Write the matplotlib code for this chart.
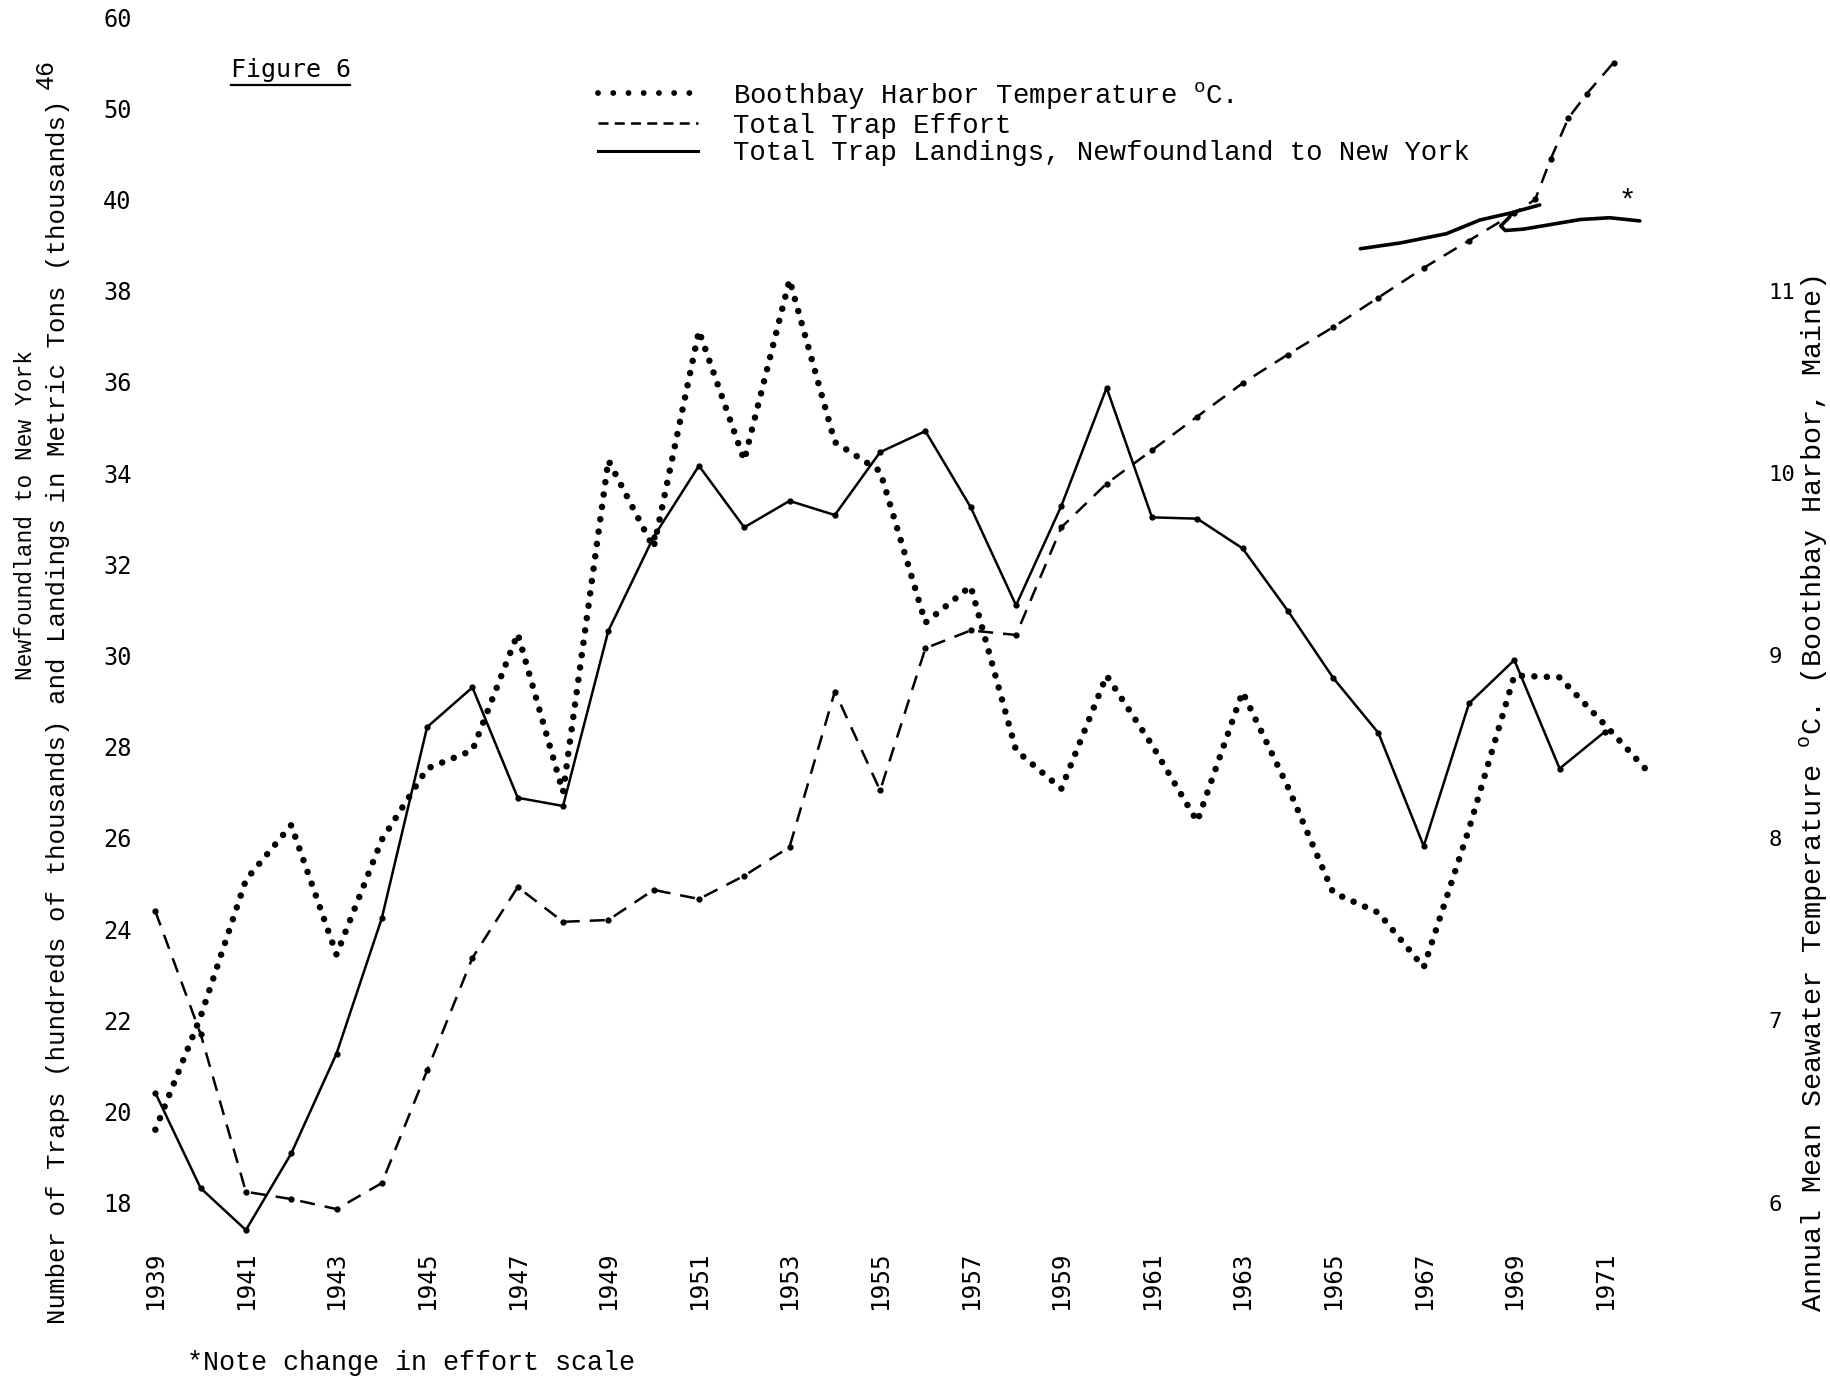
import matplotlib
matplotlib.use("Agg")
import matplotlib.pyplot as plt
from matplotlib.lines import Line2D

# ---------------- data ----------------
years = list(range(1939, 1972))
landings = [20.41, 18.32, 17.40, 19.08, 21.27, 24.24, 28.43, 29.30, 26.88, 26.70,
            30.54, 32.60, 34.16, 32.81, 33.39, 33.08, 34.46, 34.92, 33.25, 31.10,
            33.28, 35.87, 33.03, 33.00, 32.35, 30.98, 29.51, 28.30, 25.82, 28.95,
            29.90, 27.52, 28.33]

effort_years = list(range(1939, 1970))
effort = [24.39, 21.70, 18.24, 18.08, 17.86, 18.43, 20.90, 23.37, 24.92, 24.16,
          24.20, 24.86, 24.66, 25.17, 25.80, 29.21, 27.04, 30.16, 30.55, 30.45,
          32.81, 33.77, 34.50, 35.24, 35.97, 36.60, 37.20, 37.85, 38.50, 39.10,
          39.70]
# after 1969 effort is drawn on the changed scale (40 -> 50 -> 60)
effort_tail_years = [1969.46, 1969.8, 1970.19, 1970.6, 1971.19]
effort_tail = [40.0, 44.4, 48.9, 51.6, 55.0]

temp_years = list(range(1939, 1973))
temp = [6.40, 7.02, 7.77, 8.07, 7.36, 7.99, 8.38, 8.48, 9.12, 8.25,
        10.07, 9.59, 10.78, 10.07, 11.06, 10.17, 10.01, 9.18, 9.38, 8.48,
        8.27, 8.89, 8.51, 8.09, 8.80, 8.28, 7.70, 7.59, 7.29, 8.05,
        8.89, 8.88, 8.62, 8.35]

# hand-drawn landings strokes (changed scale, marked *)
redraw1_years = [1965.6, 1966.5, 1967.5, 1968.24, 1968.9, 1969.56]
redraw1_vals = [38.92, 39.05, 39.25, 39.55, 39.70, 39.88]
redraw2_years = [1968.9, 1968.7, 1968.8, 1969.2, 1969.8, 1970.45, 1971.1, 1971.77]
redraw2_vals = [39.62, 39.42, 39.32, 39.35, 39.45, 39.56, 39.60, 39.53]

left_tick_labels = ['18', '20', '22', '24', '26', '28', '30', '32', '34', '36',
                    '38', '40', '50', '60']
left_tick_values = [18, 20, 22, 24, 26, 28, 30, 32, 34, 36, 38, 40, 50, 60]
right_ticks = [6, 7, 8, 9, 10, 11]
year_ticks = list(range(1939, 1972, 2))


def effort_axis(e):
    """map effort value to left-axis position (scale changes above 40)"""
    return e if e <= 40 else 40 + (e - 40) / 5.0


plt.rcParams['mathtext.fontset'] = 'custom'
plt.rcParams['mathtext.rm'] = 'Liberation Mono'
MONO = 'Liberation Mono'
TICKF = 'DejaVu Sans Mono'

fig = plt.figure(figsize=(18.31, 13.78), dpi=100)
fig.patch.set_facecolor('white')
ax = fig.add_axes([0.07493, 0.09412, 0.86346, 0.90341])
ax.set_xlim(1938.6, 1973.5)
ax.set_ylim(17.0, 44.3)
for s in ax.spines.values():
    s.set_visible(False)

ax2 = ax.twinx()
ax2.set_ylim(6 + (17.0 - 18) / 4.0, 6 + (44.3 - 18) / 4.0)
for s in ax2.spines.values():
    s.set_visible(False)

# landings (solid)
ax.plot(years, landings, color='black', lw=1.8, marker='o', ms=3.5,
        clip_on=False, zorder=3)
# effort (dashed)
ex = effort_years + effort_tail_years
ey = [effort_axis(v) for v in effort] + [effort_axis(v) for v in effort_tail]
ax.plot(ex, ey, color='black', lw=1.8, linestyle=(0, (6, 4)), marker='o', ms=3.5,
        clip_on=False, zorder=3)
# hand-drawn strokes
ax.plot(redraw1_years, redraw1_vals, color='black', lw=2.6, solid_capstyle='round',
        clip_on=False)
ax.plot(redraw2_years, redraw2_vals, color='black', lw=2.6, solid_capstyle='round',
        clip_on=False)
ax.text(1971.5, 39.95, '*', fontsize=21, family=MONO, ha='center', va='center')

# temperature (dotted) on right axis
ax2.plot(temp_years, temp, color='black', lw=4.7, linestyle=(0, (0.01, 1.9)),
         dash_capstyle='round', clip_on=False, zorder=3)

# ticks
ax.set_xticks(year_ticks)
ax.set_xticklabels([str(y) for y in year_ticks], rotation=90, fontsize=17.5,
                   family=TICKF)
ax.tick_params(axis='x', length=0, pad=2)
ax.set_yticks([effort_axis(v) for v in left_tick_values])
ax.set_yticklabels(left_tick_labels, fontsize=17, family=TICKF)
ax.tick_params(axis='y', length=0, pad=4)
ax2.set_yticks(right_ticks)
ax2.set_yticklabels([str(t) for t in right_ticks], fontsize=16, family=TICKF)
ax2.tick_params(axis='y', length=0, pad=36)

# axis titles
W, H = 1831.0, 1378.0
fig.text(58 / W, 1 - 712 / H,
         'Number of Traps (hundreds of thousands) and Landings in Metric Tons (thousands)',
         rotation=90, ha='center', va='center', fontsize=18.5, family=MONO)
fig.text(26 / W, 1 - 515 / H, 'Newfoundland to New York', rotation=90,
         ha='center', va='center', fontsize=16.5, family=MONO)
fig.text(1814 / W, 1 - 794 / H,
         'Annual Mean Seawater Temperature $^{\\rm o}$C. (Boothbay Harbor, Maine)',
         rotation=90, ha='center', va='center', fontsize=20.5, family=MONO)
fig.text(46 / W, 1 - 74 / H, '46', rotation=90, ha='center', va='center',
         fontsize=18, family=MONO)

# Figure title with underline
fig.text(231 / W, 1 - 70 / H, 'Figure 6', ha='left', va='center', fontsize=18,
         family=TICKF)
fig.add_artist(Line2D([231 / W, 350 / W], [1 - 85 / H, 1 - 85 / H],
                      transform=fig.transFigure, color='black', lw=1.6))

# legend
handles = [
    Line2D([], [], color='black', lw=4.2, linestyle=(0, (0.01, 2.6)),
           dash_capstyle='round'),
    Line2D([], [], color='black', lw=1.8, linestyle=(0, (4, 2.5))),
    Line2D([], [], color='black', lw=2.2),
]
labels = ['Boothbay Harbor Temperature $^{\\rm o}$C.',
          'Total Trap Effort',
          'Total Trap Landings, Newfoundland to New York']
fig.legend(handles, labels, loc='upper left', bbox_to_anchor=(598 / W, 1 - 80 / H),
           frameon=False, borderaxespad=0, borderpad=0, handlelength=3.65,
           handletextpad=1.3, labelspacing=0.06, prop={'family': MONO, 'size': 19.7})

fig.text(187 / W, 1 - 1363 / H, '*Note change in effort scale', ha='left',
         va='center', fontsize=19.3, family=MONO)

fig.savefig('out.png', dpi=100, facecolor='white')
